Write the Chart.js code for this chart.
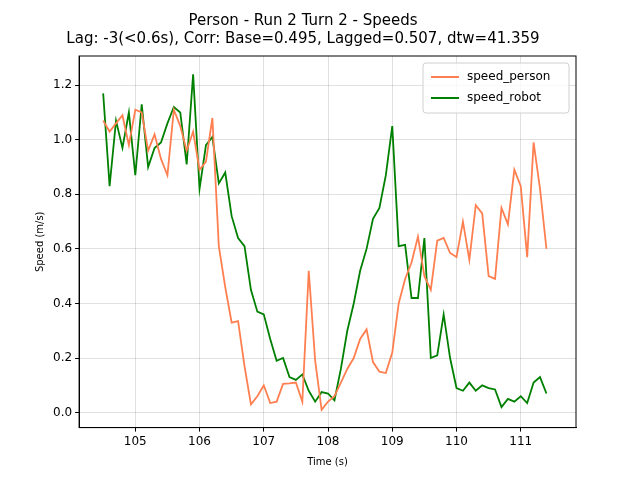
<!DOCTYPE html>
<html>
<head>
<meta charset="utf-8">
<script src="https://cdn.jsdelivr.net/npm/chart.js@4"></script>
<style>
  body { margin: 0; background: #fff; }
  #wrap { width: 640px; height: 480px; }
</style>
</head>
<body>
<div id="wrap"><canvas id="speedChart"></canvas></div>
<script>
// Time stamps (s), 0.1 s steps
const timeStart = 104.5;
const speedPerson = [1.07, 1.03, 1.06, 1.09, 0.98, 1.11, 1.10, 0.96, 1.02, 0.93,
    0.87, 1.11, 1.05, 0.96, 1.03, 0.89, 0.92, 1.08, 0.61, 0.46,
    0.33, 0.335, 0.17, 0.03, 0.06, 0.10, 0.035, 0.04, 0.105, 0.107,
    0.11, 0.04, 0.52, 0.19, 0.01, 0.04, 0.06, 0.11, 0.16, 0.20,
    0.27, 0.305, 0.185, 0.15, 0.145, 0.22, 0.40, 0.49, 0.55, 0.645,
    0.50, 0.45, 0.63, 0.64, 0.585, 0.57, 0.70, 0.56, 0.76, 0.73,
    0.50, 0.49, 0.75, 0.69, 0.89, 0.83, 0.57, 0.99, 0.82, 0.60];
const speedRobot = [1.17, 0.83, 1.07, 0.97, 1.10, 0.87, 1.13, 0.90, 0.97, 0.99,
    1.06, 1.12, 1.10, 0.91, 1.24, 0.82, 0.98, 1.01, 0.84, 0.88,
    0.72, 0.64, 0.61, 0.45, 0.37, 0.36, 0.27, 0.19, 0.20, 0.13,
    0.12, 0.14, 0.08, 0.04, 0.075, 0.07, 0.045, 0.16, 0.30, 0.40,
    0.52, 0.60, 0.71, 0.75, 0.87, 1.05, 0.61, 0.615, 0.42, 0.42,
    0.64, 0.20, 0.21, 0.36, 0.20, 0.09, 0.08, 0.11, 0.08, 0.10,
    0.09, 0.085, 0.02, 0.05, 0.04, 0.06, 0.035, 0.11, 0.13, 0.07];
const xTicks = [105, 106, 107, 108, 109, 110, 111];
const yTicks = [0.0, 0.2, 0.4, 0.6, 0.8, 1.0, 1.2];

function toPoints(values) {
    return values.map((v, i) => ({ x: +(timeStart + i * 0.1).toFixed(1), y: v }));
}

// full frame round the plot area
const frame = {
    id: 'frame',
    afterDatasetsDraw(chart) {
        const a = chart.chartArea, ctx = chart.ctx;
        ctx.save();
        ctx.strokeStyle = '#000';
        ctx.lineWidth = 1;
        ctx.strokeRect(a.left, a.top, a.right - a.left, a.bottom - a.top);
        ctx.restore();
    }
};

// legend drawn inside the plot, top right, like matplotlib
const innerLegend = {
    id: 'innerLegend',
    afterDraw(chart) {
        const ctx = chart.ctx;
        const area = chart.chartArea;
        const sets = chart.data.datasets;
        const w = 146, h = 50;
        const x = area.right - w - 7, y = area.top + 7;
        ctx.save();
        ctx.fillStyle = 'rgba(255,255,255,0.8)';
        ctx.strokeStyle = '#d0d0d0';
        ctx.lineWidth = 1;
        ctx.beginPath();
        ctx.roundRect(x, y, w, h, 3);
        ctx.fill();
        ctx.stroke();
        ctx.font = '12px "DejaVu Sans"';
        ctx.textBaseline = 'middle';
        sets.forEach((ds, i) => {
            const ly = y + 14 + i * 21;
            ctx.strokeStyle = ds.borderColor;
            ctx.lineWidth = 2;
            ctx.beginPath();
            ctx.moveTo(x + 8, ly);
            ctx.lineTo(x + 36, ly);
            ctx.stroke();
            ctx.fillStyle = '#000';
            ctx.fillText(ds.label, x + 44, ly);
        });
        ctx.restore();
    }
};

document.addEventListener('DOMContentLoaded', function() {
    const ctx = document.getElementById('speedChart').getContext('2d');
    const gridStyle = { color: 'rgba(0,0,0,0.12)', tickColor: '#000', tickLength: 4 };
    new Chart(ctx, {
        type: 'line',
        data: {
            datasets: [{
                label: 'speed_person',
                data: toPoints(speedPerson),
                borderColor: '#FF7F50',
                borderWidth: 1.8,
                pointRadius: 0,
                tension: 0
            }, {
                label: 'speed_robot',
                data: toPoints(speedRobot),
                borderColor: '#008000',
                borderWidth: 1.8,
                pointRadius: 0,
                tension: 0
            }]
        },
        options: {
            responsive: true,
            maintainAspectRatio: false,
            animation: false,
            layout: { padding: { top: 4, right: 64, bottom: 8, left: 30 } },
            plugins: {
                legend: { display: false },
                tooltip: { enabled: false },
                title: {
                    display: true,
                    text: ['Person - Run 2 Turn 2 - Speeds',
                           'Lag: -3(<0.6s), Corr: Base=0.495, Lagged=0.507, dtw=41.359'],
                    color: '#000',
                    font: { family: 'DejaVu Sans', size: 15, weight: 'normal' },
                    padding: { top: 8, bottom: 8 }
                }
            },
            scales: {
                x: {
                    type: 'linear',
                    min: 104.125,
                    max: 111.86,
                    afterBuildTicks: axis => { axis.ticks = xTicks.map(v => ({ value: v })); },
                    title: { display: true, text: 'Time (s)', color: '#000',
                             font: { family: 'DejaVu Sans', size: 10 } },
                    ticks: { color: '#000', font: { family: 'DejaVu Sans', size: 12 },
                             callback: v => String(v) },
                    grid: gridStyle,
                    border: { color: '#000' }
                },
                y: {
                    min: -0.055,
                    max: 1.307,
                    afterBuildTicks: axis => { axis.ticks = yTicks.map(v => ({ value: v })); },
                    title: { display: true, text: 'Speed (m/s)', color: '#000',
                             font: { family: 'DejaVu Sans', size: 10 } },
                    ticks: { color: '#000', font: { family: 'DejaVu Sans', size: 12 },
                             callback: v => v.toFixed(1) },
                    grid: gridStyle,
                    border: { color: '#000' }
                }
            }
        },
        plugins: [frame, innerLegend]
    });
});
</script>
</body>
</html>
